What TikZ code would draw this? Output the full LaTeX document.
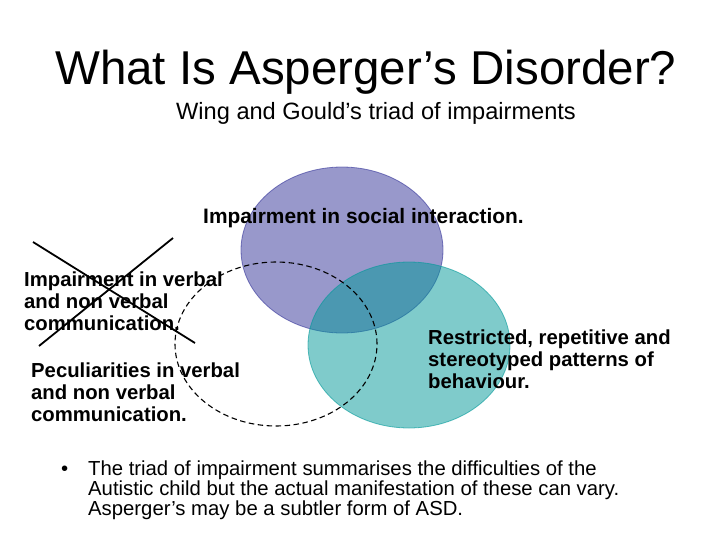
\documentclass[tikz,border=0pt]{standalone}
\usepackage{fontspec}
\setmainfont{Liberation Sans}
\definecolor{vpurple}{HTML}{333399}
\definecolor{vteal}{HTML}{009999}
\begin{document}
\begin{tikzpicture}[x=1pt,y=-1pt,
  lbl/.style={anchor=north west,inner sep=0pt,align=left,font=\fontsize{20.3}{21.8}\selectfont\bfseries},
  venn/.style={fill opacity=0.5,draw opacity=0.6,line width=0.8pt},
  crossline/.style={line width=1.8pt,black},
  dashcircle/.style={dashed,dash pattern=on 5.5pt off 3.5pt,line width=1.1pt,black}]
\fill[white] (0,0) rectangle (728,546);
\useasboundingbox (0,0) rectangle (728,546);
% ellipses
\path[venn,fill=vpurple,draw=vpurple] (342,250) ellipse [x radius=101pt,y radius=83pt];
\path[venn,fill=vteal,draw=vteal] (409,345) ellipse [x radius=101pt,y radius=83pt];
\draw[dashcircle] (276,344) ellipse [x radius=101pt,y radius=82pt];
% texts
\node[anchor=base west,inner sep=0pt,font=\fontsize{47.5}{57}\selectfont] (title) at (55,84) {What Is Asperger’s Disorder?};
\node[anchor=base west,inner sep=0pt,font=\fontsize{23.6}{27}\selectfont] (sub) at (176,119) {Wing and Gould’s triad of impairments};
\node[lbl,font=\fontsize{20.9}{21.8}\selectfont\bfseries] (social) at (203,208) {Impairment in social interaction.};
\node[lbl] (verbal) at (24,271.5) {Impairment in verbal\\and non verbal\\communication.};
\node[lbl] (pecul) at (31,362.5) {Peculiarities in verbal\\and non verbal\\communication.};
\node[lbl] (restr) at (428,329.5) {Restricted, repetitive and\\stereotyped patterns of\\behaviour.};
% cross
\coordinate (c1) at (33,242);
\coordinate (c2) at (195,343);
\coordinate (c3) at (173,238);
\coordinate (c4) at (39,346);
\draw[crossline] (c1) -- (c2);
\draw[crossline] (c3) -- (c4);
% bullet
\node[anchor=base west,inner sep=0pt,font=\fontsize{20.3}{17.5}\selectfont] (bul) at (61,475) {•};
\node[anchor=north west,inner sep=0pt,align=left,font=\fontsize{20.3}{17.3}\selectfont] (btext) at (88,460.5) {The triad of impairment summarises the difficulties of the\\Autistic child but the actual manifestation of these can vary.\\Asperger’s may be a subtler form of ASD.};
\end{tikzpicture}
\end{document}
